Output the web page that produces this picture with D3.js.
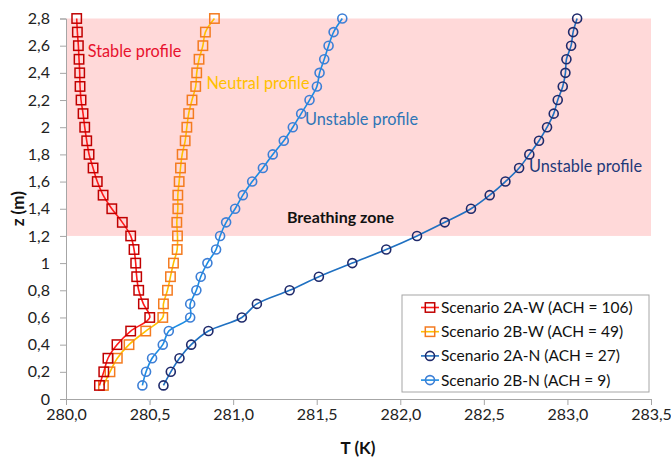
<!DOCTYPE html>
<html>
<head>
<meta charset="utf-8">
<script src="https://cdn.jsdelivr.net/npm/d3@7"></script>
<style>
  body { margin: 0; background: #fff; }
  text { font-family: Lato, "Liberation Sans", sans-serif; }
</style>
</head>
<body>
<svg id="chart"></svg>
<script>
const heights = [0.1, 0.2, 0.3, 0.4, 0.5, 0.6, 0.7, 0.8, 0.9, 1.0, 1.1, 1.2, 1.3, 1.4,
                 1.5, 1.6, 1.7, 1.8, 1.9, 2.0, 2.1, 2.2, 2.3, 2.4, 2.5, 2.6, 2.7, 2.8];

// temperatures (K) at each height
const t2AW = [280.200, 280.226, 280.251, 280.305, 280.387, 280.501, 280.463, 280.435, 280.423, 280.417,
              280.407, 280.387, 280.337, 280.274, 280.222, 280.187, 280.162, 280.138, 280.124, 280.112,
              280.102, 280.090, 280.084, 280.082, 280.078, 280.074, 280.068, 280.064];
const t2BW = [280.224, 280.263, 280.307, 280.377, 280.477, 280.579, 280.583, 280.607, 280.625, 280.643,
              280.665, 280.667, 280.663, 280.669, 280.669, 280.677, 280.685, 280.695, 280.713, 280.723,
              280.734, 280.754, 280.776, 280.782, 280.796, 280.819, 280.834, 280.888];
const t2AN = [280.583, 280.627, 280.679, 280.749, 280.852, 281.052, 281.142, 281.338, 281.513, 281.713,
              281.916, 282.100, 282.266, 282.423, 282.535, 282.629, 282.711, 282.772, 282.830, 282.878,
              282.918, 282.942, 282.972, 282.988, 282.994, 283.022, 283.034, 283.058];
const t2BN = [280.457, 280.479, 280.515, 280.579, 280.615, 280.743, 280.743, 280.780, 280.806, 280.846,
              280.898, 280.922, 280.958, 281.012, 281.058, 281.114, 281.178, 281.237, 281.303, 281.357,
              281.407, 281.457, 281.501, 281.517, 281.545, 281.571, 281.601, 281.653];

const seriesNames = ["Scenario 2A-W (ACH = 106)", "Scenario 2B-W (ACH = 49)",
                     "Scenario 2A-N (ACH = 27)", "Scenario 2B-N (ACH = 9)"];
const xTicks = [280, 280.5, 281, 281.5, 282, 282.5, 283, 283.5];
const yTicks = [0, 0.2, 0.4, 0.6, 0.8, 1, 1.2, 1.4, 1.6, 1.8, 2, 2.2, 2.4, 2.6, 2.8];
const zone = [1.2, 2.8];

const width = 671;
const height = 458;
const margin = {top: 18.5, right: 20, bottom: 59, left: 66};

const series = [
  {name: seriesNames[0], values: t2AW, line: "#FF1A1A", mark: "#C00000", shape: "square"},
  {name: seriesNames[1], values: t2BW, line: "#FFC000", mark: "#F47B20", shape: "square"},
  {name: seriesNames[2], values: t2AN, line: "#1F70C1", mark: "#1F2A6B", shape: "circle"},
  {name: seriesNames[3], values: t2BN, line: "#1B8CE3", mark: "#3D7FD6", shape: "circle"}
];

const locale = d3.formatLocale({decimal: ",", thousands: ".", grouping: [3], currency: ["", ""]});

const x = d3.scaleLinear()
    .domain([280, 283.5])
    .range([margin.left, width - margin.right]);

const y = d3.scaleLinear()
    .domain([0, 2.8])
    .range([height - margin.bottom, margin.top]);

const svg = d3.select("#chart")
    .attr("width", width)
    .attr("height", height)
    .attr("viewBox", [0, 0, width, height]);

// breathing zone band
svg.append("rect")
    .attr("x", x(280))
    .attr("y", y(zone[1]))
    .attr("width", x(283.5) - x(280))
    .attr("height", y(zone[0]) - y(zone[1]))
    .attr("fill", "#FFD9D9");

const xAxis = g => g
    .attr("transform", `translate(0,${y(0)})`)
    .call(d3.axisBottom(x).tickValues(xTicks).tickFormat(locale.format(".1f")).tickSizeOuter(0).tickSize(6).tickPadding(4))
    .call(g => g.selectAll("path, line").attr("stroke", "#A6A6A6"))
    .call(g => g.selectAll("text").attr("font-size", 16).attr("fill", "#222")
        .attr("font-family", "Lato, 'Liberation Sans', sans-serif"));

const yAxis = g => g
    .attr("transform", `translate(${x(280)},0)`)
    .call(d3.axisLeft(y).tickValues(yTicks).tickFormat(locale.format("~g")).tickSizeOuter(0).tickSize(6).tickPadding(10))
    .call(g => g.selectAll("path, line").attr("stroke", "#A6A6A6"))
    .call(g => g.selectAll("text").attr("font-size", 16).attr("fill", "#222")
        .attr("font-family", "Lato, 'Liberation Sans', sans-serif"));

svg.append("g").call(xAxis);
svg.append("g").call(yAxis);

// axis titles
svg.append("text")
    .attr("x", 358)
    .attr("y", 454)
    .attr("text-anchor", "middle")
    .attr("font-size", 17)
    .attr("font-weight", "bold")
    .attr("fill", "#111")
    .text("T (K)");

svg.append("text")
    .attr("transform", `translate(24,${(y(0) + y(2.8)) / 2}) rotate(-90)`)
    .attr("text-anchor", "middle")
    .attr("font-size", 17)
    .attr("font-weight", "bold")
    .attr("fill", "#111")
    .text("z (m)");

const line = d3.line()
    .curve(d3.curveCatmullRom.alpha(0.5))
    .x(d => x(d[0]))
    .y(d => y(d[1]));

function drawMarker(g, shape, color) {
  if (shape === "square") {
    g.append("rect")
        .attr("x", -4.7).attr("y", -4.7)
        .attr("width", 9.4).attr("height", 9.4)
        .attr("fill", "none")
        .attr("stroke", color)
        .attr("stroke-width", 1.5);
  } else {
    g.append("circle")
        .attr("r", 4.5)
        .attr("fill", "none")
        .attr("stroke", color)
        .attr("stroke-width", 1.6);
  }
}

// draw back to front: 2B-N, 2A-N, 2B-W, 2A-W
[3, 2, 1, 0].forEach(i => {
  const s = series[i];
  const pts = s.values.map((v, j) => [v, heights[j]]);
  svg.append("path")
      .datum(pts)
      .attr("fill", "none")
      .attr("stroke", s.line)
      .attr("stroke-width", 1.6)
      .attr("d", line);
  svg.append("g")
    .selectAll("g")
    .data(pts)
    .join("g")
      .attr("transform", d => `translate(${x(d[0])},${y(d[1])})`)
      .each(function() { drawMarker(d3.select(this), s.shape, s.mark); });
});

// curve annotations
const notes = [
  {text: "Stable profile", tx: 280.13, tz: 2.56, color: "#E8112D"},
  {text: "Neutral profile", tx: 280.84, tz: 2.32, color: "#FFC000"},
  {text: "Unstable profile", tx: 281.43, tz: 2.06, color: "#2E75B6"},
  {text: "Unstable profile", tx: 282.77, tz: 1.71, color: "#1F3A7A"}
];
svg.append("g")
  .selectAll("text")
  .data(notes)
  .join("text")
    .attr("x", d => x(d.tx))
    .attr("y", d => y(d.tz))
    .attr("dy", "0.35em")
    .attr("font-size", 16.3)
    .attr("fill", d => d.color)
    .text(d => d.text);

svg.append("text")
    .attr("x", 340.5)
    .attr("y", y(1.34))
    .attr("dy", "0.35em")
    .attr("text-anchor", "middle")
    .attr("font-size", 16)
    .attr("font-weight", "bold")
    .attr("fill", "#111")
    .text("Breathing zone");

// legend
const legend = svg.append("g").attr("transform", "translate(402,295)");
legend.append("rect")
    .attr("width", 247)
    .attr("height", 97)
    .attr("fill", "#fff")
    .attr("stroke", "#A6A6A6");

const item = legend.selectAll("g")
  .data(series)
  .join("g")
    .attr("transform", (d, i) => `translate(0,${12.5 + i * 24.2})`);

item.append("line")
    .attr("x1", 19).attr("x2", 37)
    .attr("stroke", d => d.line)
    .attr("stroke-width", 1.6);
item.each(function(d) {
  const g = d3.select(this).append("g").attr("transform", "translate(28,0)");
  drawMarker(g, d.shape, d.mark);
});
item.append("text")
    .attr("x", 39)
    .attr("dy", "0.35em")
    .attr("font-size", 15.5)
    .attr("fill", "#111")
    .text(d => d.name);
</script>
</body>
</html>
